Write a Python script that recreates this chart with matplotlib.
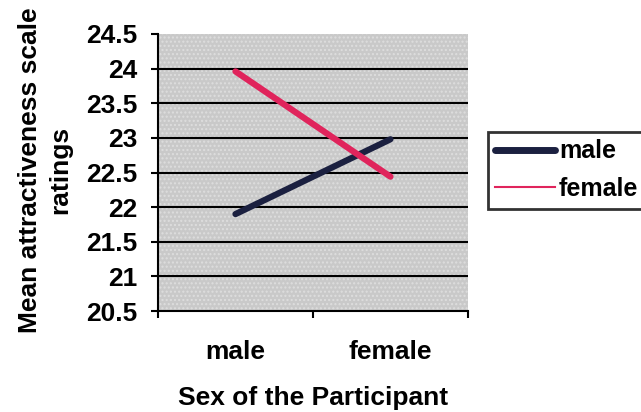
import numpy as np
import matplotlib
matplotlib.use("Agg")
import matplotlib.pyplot as plt
from matplotlib.lines import Line2D
from matplotlib.patches import Rectangle

plt.rcParams["font.family"] = ["Liberation Sans", "DejaVu Sans"]
plt.rcParams["font.weight"] = "bold"
plt.rcParams["hatch.linewidth"] = 1.0

# data
categories = ["male", "female"]
male_ratings = [21.9, 22.98]
female_ratings = [23.96, 22.44]
yticks = [20.5, 21, 21.5, 22, 22.5, 23, 23.5, 24, 24.5]

male_color = "#1b2040"
female_color = "#e0245c"
fs = 19

fig = plt.figure(figsize=(6.41, 4.12), dpi=100)
ax = fig.add_axes([0.2465, 0.245, 0.4835, 0.6725])
ax.set_facecolor("#c9c9c9")
# dotted fill like the original's textured plot area
ax.add_patch(Rectangle((0, 0), 1, 1, transform=ax.transAxes, facecolor="none",
                       edgecolor="#dedede", hatch="....", lw=0, zorder=0))

x = np.arange(len(categories))
for y in yticks[1:-1]:
    ax.axhline(y, color="black", lw=1.5, zorder=1)
ax.plot(x, male_ratings, color=male_color, lw=4.5, solid_capstyle="round", zorder=3)
ax.plot(x, female_ratings, color=female_color, lw=4.5, solid_capstyle="round", zorder=3)

ax.set_xlim(-0.5, 1.5)
ax.set_ylim(20.5, 24.5)
ax.set_yticks(yticks)
ax.set_yticklabels([f"{v:g}" for v in yticks], fontsize=fs, fontweight="bold")
ax.set_xticks(x)
ax.set_xticklabels(categories, fontsize=fs, fontweight="bold")
ax.set_xticks([-0.5, 0.5, 1.5], minor=True)
ax.tick_params(axis="x", which="major", length=0, pad=21)
ax.tick_params(axis="x", which="minor", length=5, width=1.5)
ax.tick_params(axis="y", length=5, width=1.5, pad=10)

for side in ["top", "right"]:
    ax.spines[side].set_visible(False)
for side in ["left", "bottom"]:
    ax.spines[side].set_linewidth(1.5)

ax.set_xlabel("Sex of the Participant", fontsize=fs, fontweight="bold", labelpad=16)
ax.set_ylabel("Mean attractiveness scale\nratings", fontsize=fs, fontweight="bold",
              linespacing=1.3)
ax.yaxis.set_label_coords(-0.277, 0.51)

handles = [Line2D([], [], color=male_color, lw=5, solid_capstyle="round"),
           Line2D([], [], color=female_color, lw=1.5)]
leg = fig.legend(handles, categories, loc="upper left", bbox_to_anchor=(0.761, 0.68),
                 prop={"size": 18, "weight": "bold"}, frameon=True, fancybox=False,
                 edgecolor="black", handlelength=2.4, handletextpad=0.15,
                 borderpad=0.3, labelspacing=0.55, borderaxespad=0)
leg.get_frame().set_linewidth(2)

fig.savefig("out.png", dpi=100)
